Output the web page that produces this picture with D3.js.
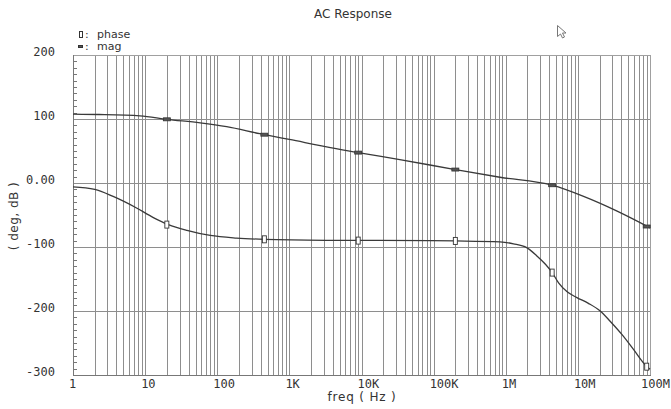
<!DOCTYPE html>
<html lang="en">
<head>
    <meta charset="UTF-8">
    <title>AC Response</title>
    <script src="https://d3js.org/d3.v7.min.js"></script>
    <style>
        body{ margin:0; background:#fff; }
        text{ fill:#333; }
        .lbl{ font-family:"DejaVu Sans", sans-serif; font-size:12px; }
        .leg{ font-family:"DejaVu Sans", sans-serif; font-size:11px; }
        .tick{ font-family:"DejaVu Sans Mono", monospace; font-size:12px; }
    </style>
</head>
<body>
<svg id="main" width="671" height="409"></svg>
<script>
    // values
    let freqMag = [1, 2.3, 8.5, 20, 58, 135, 390, 1e3, 9e3, 3.4e4, 2e5, 8.3e5, 4.4e6, 1.2e7, 3.5e7, 1e8];
    let magDb = [107.5, 107, 105, 99.5, 94, 88, 77, 68, 47.5, 36.5, 21, 9, -3.5, -21, -44, -70];
    let freqPhase = [1, 2, 3.6, 7.6, 13, 21, 38, 80, 185, 450, 3.2e3, 9e4, 2e5, 8.3e5, 1.28e6, 1.95e6,
        2.7e6, 3.55e6, 4.4e6, 5.4e6, 7.1e6, 9.7e6, 1.4e7, 2.04e7, 2.8e7, 4.1e7, 5.9e7, 8.9e7, 1e8];
    let phaseDeg = [-6, -10, -21, -39, -54, -65, -74, -82, -86, -88, -89.5, -90, -90.5, -92, -95, -101,
        -114, -127, -140, -156, -170, -179, -188, -200, -216, -237, -260, -286, -291];
    let markFreq = [20, 450, 9e3, 2e5, 4.4e6, 9e7];
    let markMag = [99.5, 75.5, 47.5, 21, -3.5, -68];
    let markPhase = [-65, -88, -90, -90.5, -140, -287];
    let xTickVals = [1, 10, 100, 1e3, 1e4, 1e5, 1e6, 1e7, 1e8];
    let xTickText = ['1', '10', '100', '1K', '10K', '100K', '1M', '10M', '100M'];
    let yTickVals = [200, 100, 0, -100, -200, -300];
    let yTickText = ['200', '100', '0.00', '-100', '-200', '-300'];

    let svg = d3.select('svg');
    let W = 671;
    let box = {left:73, right:650, top:55, bottom:375};
    let gridColor = '#8e8e8e';
    let lineColor = '#3a3a3a';

    let xScale = d3.scaleLog().domain([1, 1e8]).range([box.left, box.right]);
    let yScale = d3.scaleLinear().domain([-300, 200]).range([box.bottom, box.top]);

    // vertical grid at 1..9 of every decade
    let xGrid = [];
    for (let e = 0; e < 8; e++) {
        for (let m = 1; m < 10; m++) xGrid.push(m * Math.pow(10, e));
    }
    xGrid.push(1e8);
    svg.append('g').selectAll('line')
        .data(xGrid)
        .enter()
        .append('line')
        .attr('x1', d => Math.round(xScale(d)) + 0.5)
        .attr('x2', d => Math.round(xScale(d)) + 0.5)
        .attr('y1', box.top)
        .attr('y2', box.bottom)
        .style('stroke', gridColor);

    // horizontal grid
    svg.append('g').selectAll('line')
        .data([100, 0, -100, -200])
        .enter()
        .append('line')
        .attr('x1', box.left)
        .attr('x2', box.right)
        .attr('y1', d => Math.round(yScale(d)) + 0.5)
        .attr('y2', d => Math.round(yScale(d)) + 0.5)
        .style('stroke', gridColor);

    // frame
    svg.append('rect')
        .attr('x', box.left + 0.5)
        .attr('y', box.top + 0.5)
        .attr('width', box.right - box.left)
        .attr('height', box.bottom - box.top)
        .style('fill', 'none')
        .style('stroke', '#a0a0a0');
    svg.append('line')
        .attr('x1', box.left + 0.5).attr('x2', box.left + 0.5)
        .attr('y1', box.top).attr('y2', box.bottom + 1)
        .style('stroke', '#777');
    svg.append('line')
        .attr('x1', box.left).attr('x2', box.right + 1)
        .attr('y1', box.bottom + 0.5).attr('y2', box.bottom + 0.5)
        .style('stroke', '#777');

    // minor y ticks every 10
    let yMinor = d3.range(-300, 201, 10).filter(d => d % 100 !== 0);
    svg.append('g').selectAll('line')
        .data(yMinor)
        .enter()
        .append('line')
        .attr('x1', box.left)
        .attr('x2', box.left + 4)
        .attr('y1', d => Math.round(yScale(d)) + 0.5)
        .attr('y2', d => Math.round(yScale(d)) + 0.5)
        .style('stroke', '#777');

    // tick labels
    svg.append('g').selectAll('text')
        .data(yTickVals)
        .enter()
        .append('text')
        .attr('class', 'tick')
        .attr('x', 55)
        .attr('y', d => yScale(d) + 1)
        .attr('text-anchor', 'end')
        .text((d, i) => yTickText[i]);
    svg.append('g').selectAll('text')
        .data(xTickVals)
        .enter()
        .append('text')
        .attr('class', 'tick')
        .attr('x', d => xScale(d) - 4)
        .attr('y', 388)
        .text((d, i) => xTickText[i])
        .each(function () {
            // keep the last label inside the window
            let b = this.getBBox();
            if (b.x + b.width > W - 1) d3.select(this).attr('x', W - 1 - b.width);
        });

    // curves
    let magLine = d3.line()
        .x((d, i) => xScale(freqMag[i]))
        .y(d => yScale(d))
        .curve(d3.curveMonotoneX);
    let phaseLine = d3.line()
        .x((d, i) => xScale(freqPhase[i]))
        .y(d => yScale(d))
        .curve(d3.curveMonotoneX);
    svg.append('path')
        .attr('d', magLine(magDb))
        .style('fill', 'none')
        .style('stroke', lineColor)
        .style('stroke-width', 1.3);
    svg.append('path')
        .attr('d', phaseLine(phaseDeg))
        .style('fill', 'none')
        .style('stroke', lineColor)
        .style('stroke-width', 1.3);

    // markers
    svg.append('g').selectAll('rect')
        .data(markMag)
        .enter()
        .append('rect')
        .attr('x', (d, i) => xScale(markFreq[i]) - 3.5)
        .attr('y', d => yScale(d) - 1.5)
        .attr('width', 7)
        .attr('height', 3)
        .style('fill', '#555')
        .style('stroke', '#333')
        .style('stroke-width', 0.8);
    svg.append('g').selectAll('rect')
        .data(markPhase)
        .enter()
        .append('rect')
        .attr('x', (d, i) => xScale(markFreq[i]) - 2)
        .attr('y', d => yScale(d) - 3.5)
        .attr('width', 4)
        .attr('height', 7)
        .style('fill', '#fff')
        .style('stroke', '#333')
        .style('stroke-width', 0.9);

    // legend
    svg.append('rect').attr('x', 79.5).attr('y', 31.5).attr('width', 3).attr('height', 6)
        .style('fill', '#fff').style('stroke', '#333');
    let leg1 = svg.append('text').attr('class', 'leg').attr('x', 85).attr('y', 38);
    leg1.append('tspan').text(':');
    leg1.append('tspan').attr('x', 97).text('phase');
    svg.append('rect').attr('x', 78.5).attr('y', 45.5).attr('width', 4).attr('height', 2)
        .style('fill', '#555').style('stroke', '#333');
    let leg2 = svg.append('text').attr('class', 'leg').attr('x', 85).attr('y', 50);
    leg2.append('tspan').text(':');
    leg2.append('tspan').attr('x', 97).text('mag');

    // titles
    svg.append('text').attr('class', 'lbl')
        .attr('x', 353).attr('y', 18)
        .attr('text-anchor', 'middle')
        .text('AC Response');
    svg.append('text').attr('class', 'lbl')
        .attr('x', 362).attr('y', 401)
        .attr('text-anchor', 'middle')
        .style('letter-spacing', '0.8px')
        .text('freq ( Hz )');
    svg.append('text').attr('class', 'lbl')
        .attr('transform', 'translate(18,216) rotate(-90)')
        .attr('text-anchor', 'middle')
        .style('letter-spacing', '0.5px')
        .text('( deg, dB )');

    // mouse pointer left in the screenshot
    svg.append('path')
        .attr('d', 'M0,0 L0,11 L3,8.5 L5,12.5 L7,11.5 L5,7.5 L8.5,7.5 Z')
        .attr('transform', 'translate(557.5,25.5)')
        .style('fill', '#fff')
        .style('stroke', '#777');
</script>
</body>
</html>
